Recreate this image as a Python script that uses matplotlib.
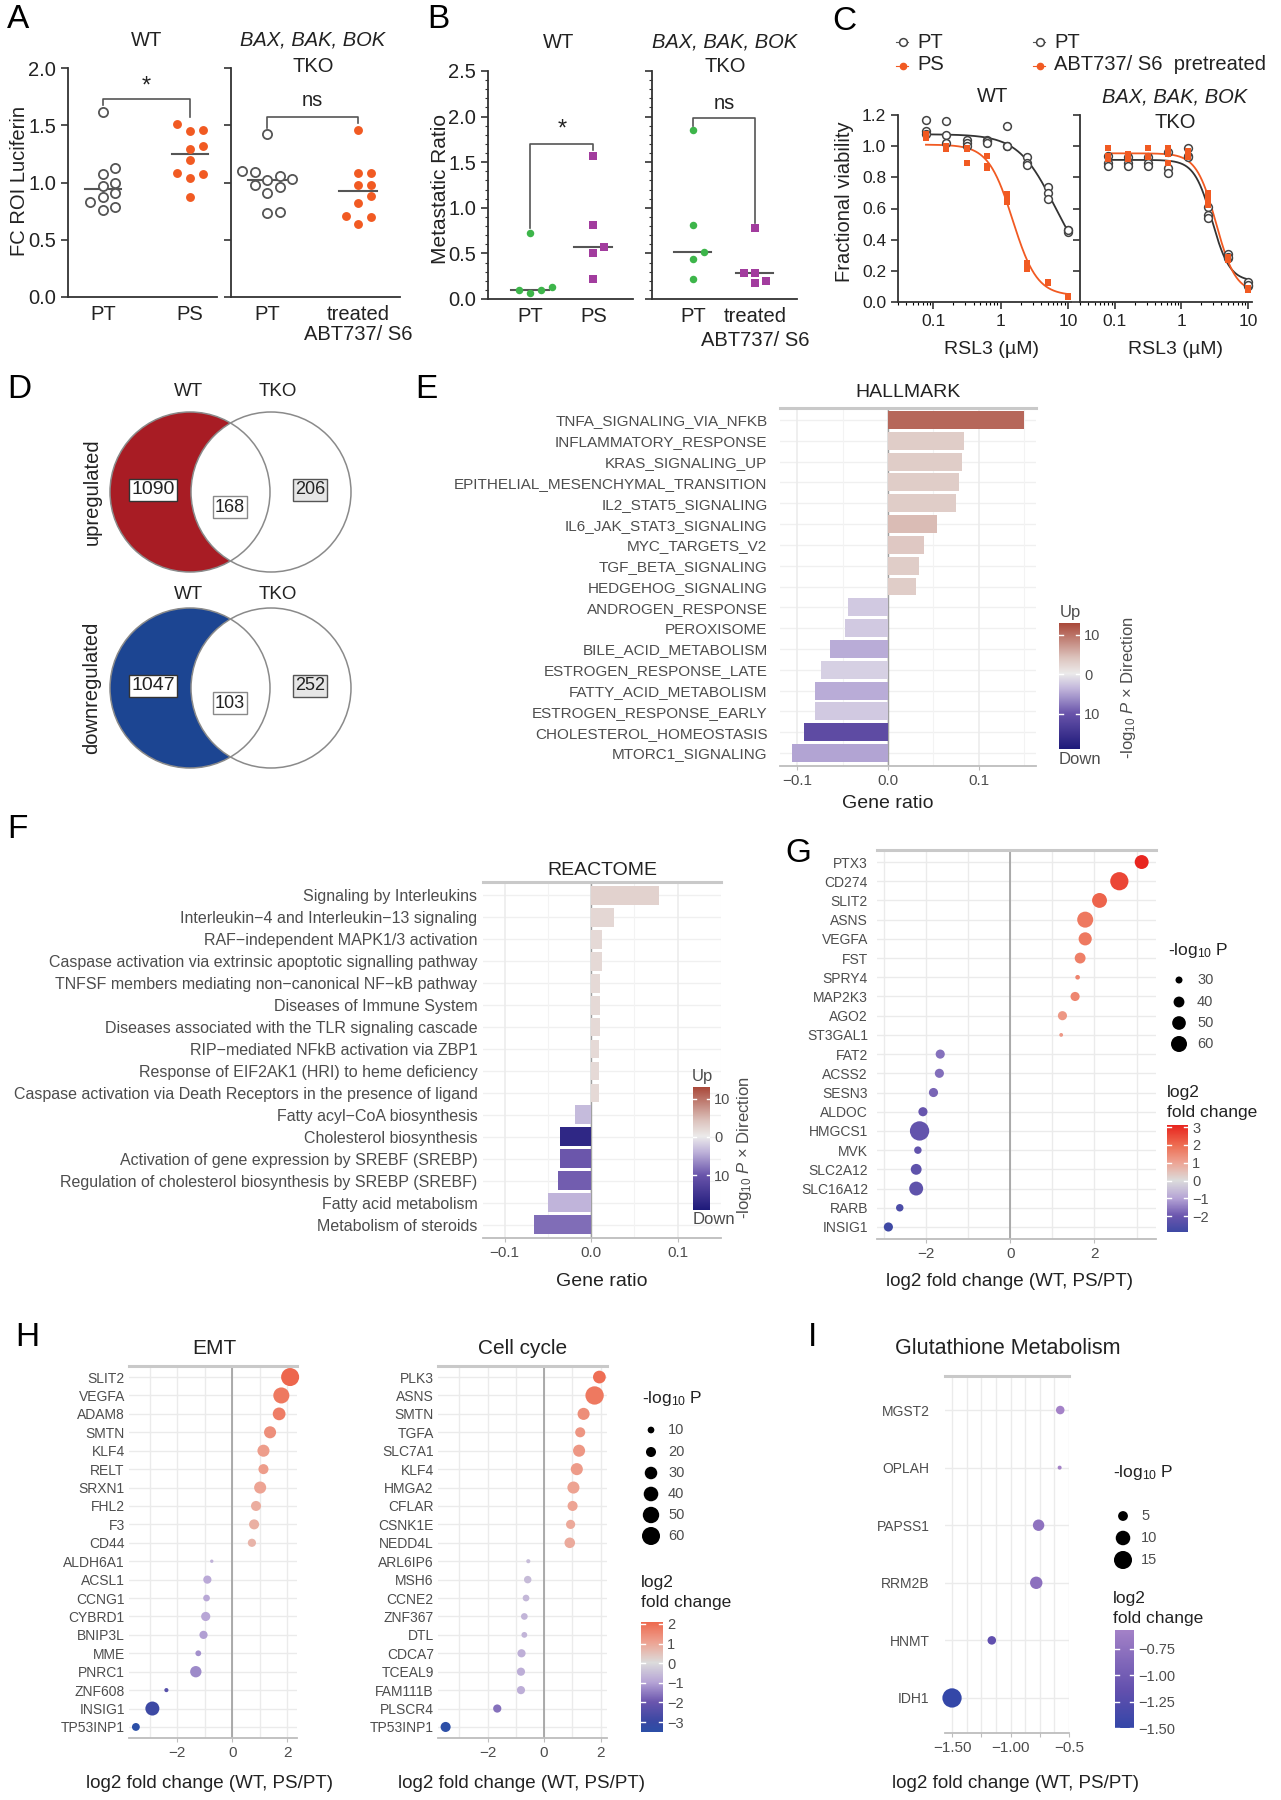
import numpy as np
import matplotlib
matplotlib.use('Agg')
import matplotlib.pyplot as plt
from matplotlib.colors import LinearSegmentedColormap, Normalize
from matplotlib.patches import Circle

plt.rcParams['font.family'] = ['Liberation Sans', 'DejaVu Sans']
plt.rcParams['mathtext.fontset'] = 'custom'
plt.rcParams['mathtext.rm'] = 'Liberation Sans'
plt.rcParams['mathtext.it'] = 'Liberation Sans:italic'
plt.rcParams['axes.unicode_minus'] = True

# ============================ DATA ============================
# A  (FC ROI luciferin)
a_wt_groups = ['PT', 'PS']
a_tko_groups = ['PT', 'treated\nABT737/ S6']
a_wt_pt = [1.62, 1.13, 1.00, 0.76, 1.07, 0.97, 0.91, 0.83, 0.87, 0.79]
a_wt_ps = [1.46, 1.51, 1.45, 1.29, 1.32, 1.20, 1.08, 1.04, 1.07, 0.87]
a_tko_pt = [1.42, 1.09, 1.10, 1.06, 1.03, 1.02, 0.98, 0.96, 0.91, 0.74, 0.73]
a_tko_tr = [1.46, 1.08, 1.08, 0.98, 0.98, 0.88, 0.82, 0.71, 0.70, 0.64]
a_sig = ['*', 'ns']

# B  (metastatic ratio)
b_wt_pt = [0.72, 0.07, 0.13, 0.10, 0.10]
b_wt_ps = [1.57, 0.81, 0.57, 0.50, 0.22]
b_tko_pt = [1.85, 0.81, 0.52, 0.44, 0.22]
b_tko_tr = [0.78, 0.28, 0.28, 0.17, 0.20]
b_sig = ['*', 'ns']

# C  (RSL3 dose response)
c_conc = [0.078, 0.156, 0.3125, 0.625, 1.25, 2.5, 5.0, 10.0]
c_wt_pt = [[1.17, 1.10, 1.08], [1.16, 1.07, 1.02], [1.04, 1.02, 1.00], [1.04, 1.03, 1.02],
           [1.13, 1.00, 1.00], [0.93, 0.89, 0.88], [0.74, 0.70, 0.66], [0.46, 0.45, 0.46]]
c_wt_ps = [[1.08, 1.06, 1.05], [1.00, 0.99, 0.98], [0.99, 0.98, 0.89], [0.94, 0.87, 0.86],
           [0.69, 0.66, 0.64], [0.25, 0.23, 0.21], [0.13, 0.12, 0.13], [0.04, 0.03, 0.04]]
c_tko_pt = [[0.94, 0.89, 0.87], [0.93, 0.89, 0.87], [0.93, 0.89, 0.87], [0.96, 0.86, 0.83],
            [0.99, 0.94, 0.93], [0.61, 0.56, 0.54], [0.31, 0.28, 0.29], [0.13, 0.10, 0.11]]
c_tko_tr = [[0.99, 0.94, 0.92], [0.95, 0.93, 0.92], [0.99, 0.94, 0.93], [0.99, 0.89, 0.95],
            [0.97, 0.93, 0.95], [0.70, 0.66, 0.62], [0.29, 0.27, 0.28], [0.08, 0.08, 0.09]]
c_legend_wt = ['PT', 'PS']
c_legend_tko = ['PT', 'ABT737/ S6  pretreated']

# D  (Venn counts: WT only, shared, TKO only)
d_sets = ['WT', 'TKO']
d_up = [1090, 168, 206]
d_down = [1047, 103, 252]

# E  HALLMARK
e_terms = ['TNFA_SIGNALING_VIA_NFKB', 'INFLAMMATORY_RESPONSE', 'KRAS_SIGNALING_UP',
           'EPITHELIAL_MESENCHYMAL_TRANSITION', 'IL2_STAT5_SIGNALING', 'IL6_JAK_STAT3_SIGNALING',
           'MYC_TARGETS_V2', 'TGF_BETA_SIGNALING', 'HEDGEHOG_SIGNALING', 'ANDROGEN_RESPONSE',
           'PEROXISOME', 'BILE_ACID_METABOLISM', 'ESTROGEN_RESPONSE_LATE', 'FATTY_ACID_METABOLISM',
           'ESTROGEN_RESPONSE_EARLY', 'CHOLESTEROL_HOMEOSTASIS', 'MTORC1_SIGNALING']
e_ratio = [0.150, 0.084, 0.081, 0.078, 0.075, 0.054, 0.040, 0.034, 0.031, -0.044, -0.047,
           -0.064, -0.074, -0.080, -0.080, -0.093, -0.106]
e_score = [10.5, 3, 3, 3, 3, 4.5, 3.5, 3, 3, -2.5, -2.5, -4.5, -2, -4.5, -2.5, -11.5, -5]

# F  REACTOME
f_terms = ['Signaling by Interleukins', 'Interleukin\u22124 and Interleukin\u221213 signaling',
           'RAF\u2212independent MAPK1/3 activation',
           'Caspase activation via extrinsic apoptotic signalling pathway',
           'TNFSF members mediating non\u2212canonical NF\u2212kB pathway', 'Diseases of Immune System',
           'Diseases associated with the TLR signaling cascade', 'RIP\u2212mediated NFkB activation via ZBP1',
           'Response of EIF2AK1 (HRI) to heme deficiency',
           'Caspase activation via Death Receptors in the presence of ligand',
           'Fatty acyl\u2212CoA biosynthesis', 'Cholesterol biosynthesis',
           'Activation of gene expression by SREBF (SREBP)',
           'Regulation of cholesterol biosynthesis by SREBP (SREBF)', 'Fatty acid metabolism',
           'Metabolism of steroids']
f_ratio = [0.078, 0.026, 0.012, 0.012, 0.010, 0.010, 0.010, 0.009, 0.009, 0.009, -0.019,
           -0.036, -0.036, -0.038, -0.050, -0.066]
f_score = [2.5, 2, 1.8, 1.8, 1.8, 1.8, 1.8, 1.8, 1.8, 1.8, -3.5, -17, -10, -9.5, -4, -8.5]

# G
g_genes = ['PTX3', 'CD274', 'SLIT2', 'ASNS', 'VEGFA', 'FST', 'SPRY4', 'MAP2K3', 'AGO2', 'ST3GAL1',
           'FAT2', 'ACSS2', 'SESN3', 'ALDOC', 'HMGCS1', 'MVK', 'SLC2A12', 'SLC16A12', 'RARB', 'INSIG1']
g_lfc = [3.12, 2.59, 2.12, 1.78, 1.78, 1.66, 1.60, 1.54, 1.24, 1.21, -1.66, -1.68, -1.82, -2.07,
         -2.15, -2.19, -2.23, -2.23, -2.62, -2.89]
g_logp = [51, 71, 55, 60, 48, 40, 26, 35, 35, 25, 35, 35, 35, 35, 77, 31, 40, 51, 31, 35]
g_size_breaks = [30, 40, 50, 60]

# H
h1_genes = ['SLIT2', 'VEGFA', 'ADAM8', 'SMTN', 'KLF4', 'RELT', 'SRXN1', 'FHL2', 'F3', 'CD44',
            'ALDH6A1', 'ACSL1', 'CCNG1', 'CYBRD1', 'BNIP3L', 'MME', 'PNRC1', 'ZNF608', 'INSIG1', 'TP53INP1']
h1_lfc = [2.10, 1.78, 1.70, 1.37, 1.13, 1.13, 1.01, 0.86, 0.79, 0.71, -0.75, -0.91, -0.94, -0.97,
          -1.05, -1.24, -1.33, -2.40, -2.91, -3.51]
h1_logp = [60, 48, 31, 28, 28, 20, 28, 20, 20, 14, 4, 14, 10, 17, 14, 8, 25, 5, 37, 13]
h2_genes = ['PLK3', 'ASNS', 'SMTN', 'TGFA', 'SLC7A1', 'KLF4', 'HMGA2', 'CFLAR', 'CSNK1E', 'NEDD4L',
            'ARL6IP6', 'MSH6', 'CCNE2', 'ZNF367', 'DTL', 'CDCA7', 'TCEAL9', 'FAM111B', 'PLSCR4', 'TP53INP1']
h2_lfc = [1.96, 1.79, 1.40, 1.28, 1.24, 1.16, 1.04, 1.01, 0.94, 0.91, -0.56, -0.58, -0.64, -0.70,
          -0.70, -0.80, -0.82, -0.82, -1.66, -3.49]
h2_logp = [31, 62, 28, 20, 28, 28, 28, 20, 17, 22, 5, 12, 10, 10, 8, 14, 14, 14, 14, 20]
h_size_breaks = [10, 20, 30, 40, 50, 60]

# I
i_genes = ['MGST2', 'OPLAH', 'PAPSS1', 'RRM2B', 'HNMT', 'IDH1']
i_lfc = [-0.575, -0.58, -0.76, -0.78, -1.16, -1.50]
i_logp = [4, 1.5, 6.5, 7.5, 4, 17]
i_size_breaks = [5, 10, 15]

# ============================ HELPERS ============================
W, H = 1281, 1800
fig = plt.figure(figsize=(W / 100, H / 100), dpi=100)
fig.patch.set_facecolor('white')

def pax(x0, y0, x1, y1):
    return fig.add_axes([x0 / W, 1 - y1 / H, (x1 - x0) / W, (y1 - y0) / H])

def ftext(x, y, s, **kw):
    kw.setdefault('ha', 'center')
    kw.setdefault('va', 'center')
    return fig.text(x / W, 1 - y / H, s, **kw)

def s_of(d):
    return (np.asarray(d, float) * 0.72) ** 2

ov = fig.add_axes([0, 0, 1, 1])
ov.set_xlim(0, W)
ov.set_ylim(H, 0)
ov.axis('off')
ov.patch.set_visible(False)

DARK = '#222222'
GRAYTXT = '#4D4D4D'
ORANGE = '#F15A22'
GREEN = '#3DB54A'
PURPLE = '#A23C9E'

# panel letters
for L, x, y in [('A', 7, 20), ('B', 427, 20), ('C', 832, 21), ('D', 7, 390), ('E', 415, 390),
                ('F', 7, 830), ('G', 785, 853), ('H', 15, 1337), ('I', 808, 1337)]:
    ftext(x, y, L, ha='left', fontsize=24, color='black')


def swarm(vals, ypx, d, cs):
    vals = np.asarray(vals, float)
    order = np.argsort(vals)
    placed = []
    off = np.zeros(len(vals))
    for i in order:
        yy = vals[i] * ypx
        for k in [0, 1, -1, 2, -2, 3, -3, 4, -4]:
            xx = k * cs
            if all((xx - px) ** 2 + (yy - py) ** 2 >= d ** 2 for px, py in placed):
                break
        placed.append((xx, yy))
        off[i] = xx
    return off


def classic_axes(ax, labelsize):
    for s in ['top', 'right']:
        ax.spines[s].set_visible(False)
    for s in ['left', 'bottom']:
        ax.spines[s].set_color('#333333')
        ax.spines[s].set_linewidth(1.3)
    ax.tick_params(axis='both', labelsize=labelsize, colors='#333333', labelcolor=DARK)


def point_panel(ax, groups, names, styles, ypx, xpx, d, cs, medhalf, sig, ylim, yticks,
                yfmt, show_ylab, lab_fs, bracket_top_pad, leg_pad, sig_pad, sig_fs, line2_off):
    for gi, (vals, st) in enumerate(zip(groups, styles)):
        off = swarm(vals, ypx, d, cs) / xpx
        ax.plot(gi + off, vals, linestyle='none', clip_on=False, **st)
        m = np.median(vals)
        ax.plot([gi - medhalf, gi + medhalf], [m, m], color='#555555', lw=1.5, zorder=1)
    top = max(max(g) for g in groups) + bracket_top_pad
    lb = min(max(groups[0]) + leg_pad, top - 0.04)
    rb = min(max(groups[1]) + leg_pad, top - 0.04)
    ax.plot([0, 0, 1, 1], [lb, top, top, rb], color='#555555', lw=1.2, clip_on=False)
    ax.text(0.5, top + sig_pad, sig, ha='center', va='center', fontsize=sig_fs, color=DARK)
    ax.set_ylim(*ylim)
    ax.set_yticks(yticks)
    ax.set_yticklabels([yfmt % v for v in yticks] if show_ylab else [])
    ax.set_xticks(range(len(names)))
    ax.set_xticklabels([n.split('\n')[0] for n in names])
    for gi, n in enumerate(names):
        parts = n.split('\n')
        if len(parts) > 1:
            ax.annotate(parts[1], xy=(gi, 0), xycoords=('data', 'axes fraction'),
                        xytext=(0, -line2_off), textcoords='offset points',
                        ha='center', va='center', fontsize=lab_fs, color=DARK, annotation_clip=False)
    classic_axes(ax, lab_fs)
    ax.tick_params(axis='x', length=0, pad=6)
    ax.tick_params(axis='y', length=5, width=1.2)


# ============================ A ============================
open_st = dict(marker='o', ms=6.6, mfc='white', mec='#555555', mew=1.3)
orange_st = dict(marker='o', ms=6.4, mfc=ORANGE, mec=ORANGE, mew=0)
axA1 = pax(68, 68, 217, 297)
axA1.set_xlim(-0.40, 1.31)
point_panel(axA1, [a_wt_pt, a_wt_ps], a_wt_groups, [open_st, orange_st], 114.5, 87, 10, 12.5,
            0.21, a_sig[0], (0, 2.0), [0, 0.5, 1.0, 1.5, 2.0], '%.1f', True, 14.5, 0.11, 0.06, 0.11, 17, 27)
axA2 = pax(231, 68, 400, 297)
axA2.set_xlim(-0.40, 1.46)
point_panel(axA2, [a_tko_pt, a_tko_tr], a_tko_groups, [open_st, orange_st], 114.5, 91, 10, 12.5,
            0.21, a_sig[1], (0, 2.0), [0, 0.5, 1.0, 1.5, 2.0], '%.1f', False, 14.5, 0.11, 0.06, 0.15, 14.5, 27)
ftext(20, 181, 'FC ROI Luciferin', rotation=90, fontsize=14.5, color=DARK)
ftext(147, 40, 'WT', fontsize=14.5, color=DARK)
ftext(313, 40, 'BAX, BAK, BOK', fontsize=14.5, style='italic', color=DARK)
ftext(313, 67, 'TKO', fontsize=14.5, color=DARK)

# ============================ B ============================
green_st = dict(marker='o', ms=5.4, mfc=GREEN, mec=GREEN, mew=0)
purple_st = dict(marker='s', ms=5.2, mfc=PURPLE, mec=PURPLE, mew=0)
axB1 = pax(488, 71, 633, 299)
axB1.set_xlim(-0.67, 1.63)
point_panel(axB1, [b_wt_pt, b_wt_ps], a_wt_groups, [green_st, purple_st], 91.2, 63, 8, 11,
            0.30, b_sig[0], (0, 2.5), [0, 0.5, 1.0, 1.5, 2.0, 2.5], '%.1f', True, 14.5, 0.13, 0.06, 0.16, 17, 30)
axB2 = pax(652, 71, 797, 299)
axB2.set_xlim(-0.66, 1.68)
point_panel(axB2, [b_tko_pt, b_tko_tr], a_tko_groups, [green_st, purple_st], 91.2, 62, 8, 11,
            0.30, b_sig[1], (0, 2.5), [0, 0.5, 1.0, 1.5, 2.0, 2.5], '%.1f', False, 14.5, 0.13, 0.05, 0.16, 14.5, 30)
for ax in (axB1, axB2):
    ax.set_yticks(np.arange(0, 2.51, 0.1), minor=True)
    ax.tick_params(axis='y', which='minor', length=2.5, width=0.8, color='#333333')
ftext(440, 189, 'Metastatic Ratio', rotation=90, fontsize=15, color=DARK)
ftext(559, 42, 'WT', fontsize=14.5, color=DARK)
ftext(725, 42, 'BAX, BAK, BOK', fontsize=14.5, style='italic', color=DARK)
ftext(725, 67, 'TKO', fontsize=14.5, color=DARK)

# ============================ C ============================
def fit_logistic(conc, reps):
    x = np.repeat(np.asarray(conc, float), [len(r) for r in reps])
    y = np.concatenate([np.asarray(r, float) for r in reps])
    best = None
    for h in np.linspace(0.8, 4.5, 75):
        for lic in np.linspace(-1.0, 1.6, 131):
            f = 1.0 / (1.0 + (x / 10 ** lic) ** h)
            A = np.vstack([np.ones_like(f), f]).T
            coef = np.linalg.lstsq(A, y, rcond=None)[0]
            sse = np.sum((A @ coef - y) ** 2)
            if best is None or sse < best[0]:
                best = (sse, h, lic, coef)
    return best[1:]


def dose_panel(ax, series):
    xs = np.logspace(np.log10(min(c_conc)), np.log10(max(c_conc)), 300)
    for reps, mk, col in series:
        h, lic, coef = fit_logistic(c_conc, reps)
        ax.plot(xs, coef[0] + coef[1] / (1 + (xs / 10 ** lic) ** h), color=col, lw=1.3, zorder=2)
        for c, r in zip(c_conc, reps):
            ax.plot([c] * len(r), r, linestyle='none', zorder=3, clip_on=False, **mk)
    ax.set_xscale('log')
    ax.set_xlim(0.03, 11.5)
    ax.set_ylim(0, 1.2)
    ax.set_xticks([0.1, 1, 10])
    ax.set_xticklabels(['0.1', '1', '10'])
    ax.set_yticks(np.arange(0, 1.21, 0.2))
    classic_axes(ax, 12.5)
    ax.tick_params(axis='both', which='major', length=5, width=1.2)
    ax.tick_params(axis='x', which='minor', length=2.5, width=0.8)


c_open = dict(marker='o', ms=5.6, mfc='white', mec='#444444', mew=1.1)
c_or = dict(marker='s', ms=4.6, mfc=ORANGE, mec=ORANGE, mew=0)
axC1 = pax(898, 115, 1072, 302)
dose_panel(axC1, [(c_wt_pt, c_open, '#333333'), (c_wt_ps, c_or, ORANGE)])
axC1.set_yticklabels(['%.1f' % v for v in np.arange(0, 1.21, 0.2)])
axC2 = pax(1080, 115, 1252, 302)
dose_panel(axC2, [(c_tko_pt, c_open, '#333333'), (c_tko_tr, c_or, ORANGE)])
axC2.set_yticklabels([])
ftext(845, 202, 'Fractional viability', rotation=90, fontsize=14.5, color=DARK)
ftext(991, 350, 'RSL3 (\u00b5M)', fontsize=14, color=DARK)
ftext(1175, 350, 'RSL3 (\u00b5M)', fontsize=14, color=DARK)
ftext(993, 97, 'WT', fontsize=14.5, color=DARK)
ftext(1175, 97, 'BAX, BAK, BOK', fontsize=14.5, style='italic', color=DARK)
ftext(1175, 122, 'TKO', fontsize=14.5, color=DARK)
for lx, labels in [(903, c_legend_wt), (1040, c_legend_tko)]:
    ov.plot([lx - 7, lx + 5], [42, 42], color='#555555', lw=0.8)
    ov.plot([lx], [42], linestyle='none', **c_open)
    ov.plot([lx - 7, lx + 5], [66, 66], color=ORANGE, lw=0.8)
    ov.plot([lx], [66], linestyle='none', marker='o', ms=4.5, mfc=ORANGE, mec=ORANGE)
    ftext(lx + 14, 42, labels[0], ha='left', fontsize=14.5, color=DARK)
    ftext(lx + 14, 65, labels[1], ha='left', fontsize=14.5, color=DARK)

# ============================ D ============================
def venn(cy, fill, counts, title_y, side_label):
    cl, cr, r = 190, 271, 80
    ov.add_patch(Circle((cl, cy), r, fc=fill, ec='none', zorder=1))
    ov.add_patch(Circle((cr, cy), r, fc='white', ec='none', zorder=2))
    ov.add_patch(Circle((cl, cy), r, fill=False, ec='#8A8A8A', lw=1.1, zorder=3))
    ov.add_patch(Circle((cr, cy), r, fill=False, ec='#8A8A8A', lw=1.1, zorder=3))
    bx = [dict(boxstyle='square,pad=0.12', fc='white', ec='#333333', lw=1.0),
          dict(boxstyle='square,pad=0.12', fc='white', ec='#8A8A8A', lw=1.0),
          dict(boxstyle='square,pad=0.12', fc='#E6E6E6', ec='#555555', lw=1.0)]
    pos = [(153, cy - 2), (230, cy + 15), (310, cy - 2)]
    for (x, y), n, b, fs in zip(pos, counts, bx, [14, 13, 13]):
        ov.text(x, y, str(n), ha='center', va='center', fontsize=fs, color=DARK, bbox=b, zorder=5)
    ftext(188, title_y, d_sets[0], fontsize=13.5, color=DARK)
    ftext(278, title_y, d_sets[1], fontsize=13.5, color=DARK)
    ftext(92, cy, side_label, rotation=90, fontsize=14.5, color=DARK)

venn(492, '#A81C24', d_up, 392, 'upregulated')
venn(688, '#1C4592', d_down, 595, 'downregulated')

# ============================ colour maps ============================
def anchored_cmap(anchors, vmin, vmax):
    return LinearSegmentedColormap.from_list(
        'c', [((v - vmin) / (vmax - vmin), c) for v, c in anchors]), Normalize(vmin, vmax)

cm_dir, nm_dir = anchored_cmap([(-19, '#1E1A7A'), (-10, '#6A55AB'), (-4, '#BFB3DA'), (0, '#ECEBEB'),
                                (4, '#DDC4BE'), (13, '#A84536')], -19, 13)
cm_lfc, nm_lfc = anchored_cmap([(-3.6, '#2A50A8'), (-3.0, '#3A48A3'), (-2.0, '#6B56AE'),
                                (-1.0, '#B6A4D6'), (0.0, '#DCDCDC'), (1.0, '#EDA595'),
                                (2.0, '#EE6D52'), (3.2, '#E8201B')], -3.6, 3.2)
cm_i, nm_i = anchored_cmap([(-1.52, '#3246A8'), (-1.15, '#6250AE'), (-0.56, '#A583C8')], -1.52, -0.56)


def style_gg(ax):
    for s in ['left', 'right']:
        ax.spines[s].set_visible(False)
    ax.spines['top'].set_color('#C9C9C9')
    ax.spines['top'].set_linewidth(2.2)
    ax.spines['bottom'].set_color('#BDBDBD')
    ax.spines['bottom'].set_linewidth(1.3)
    ax.tick_params(axis='y', length=0)
    ax.tick_params(axis='x', which='major', length=3, color='#BDBDBD', labelsize=11,
                   labelcolor=GRAYTXT, pad=3)
    ax.tick_params(axis='x', which='minor', length=0)
    ax.set_axisbelow(True)


def draw_cbar(x0, y0, x1, y1, vmin, vmax, cmap, norm, ticks, labels, fs=10.5):
    cax = pax(x0, y0, x1, y1)
    grad = np.linspace(vmax, vmin, 256).reshape(-1, 1)
    cax.imshow(grad, aspect='auto', cmap=cmap, norm=norm, extent=[0, 1, vmin, vmax],
               origin='upper', interpolation='bilinear')
    cax.set_xlim(0, 1)
    cax.set_ylim(vmin, vmax)
    cax.set_xticks([])
    cax.yaxis.tick_right()
    cax.set_yticks(ticks)
    cax.set_yticklabels(labels)
    cax.tick_params(axis='y', length=0, labelsize=fs, labelcolor=GRAYTXT, pad=3)
    for t in ticks:
        cax.plot([0, 0.2], [t, t], color='white', lw=1)
        cax.plot([0.8, 1], [t, t], color='white', lw=1)
    for s in cax.spines.values():
        s.set_visible(False)
    return cax


def bar_panel(box, xlim, terms, ratio, score, fs, pad):
    ax = pax(*box)
    n = len(terms)
    yy = np.arange(n)
    ax.barh(yy, ratio, height=0.86, color=cm_dir(nm_dir(np.asarray(score))), zorder=2)
    ax.set_ylim(n - 0.4, -0.6)
    ax.set_xlim(*xlim)
    ax.set_yticks(yy)
    ax.set_yticklabels(terms)
    ax.tick_params(axis='y', labelsize=fs, labelcolor=GRAYTXT, pad=pad)
    ax.set_xticks([-0.1, 0, 0.1])
    ax.set_xticklabels(['\u22120.1', '0.0', '0.1'])
    ax.set_xticks([-0.05, 0.05, 0.15], minor=True)
    ax.grid(axis='x', which='major', color='#EBEBEB', lw=1.1)
    ax.grid(axis='x', which='minor', color='#F3F3F3', lw=0.8)
    for y in yy:
        ax.axhline(y, color='#F0F0F0', lw=1, zorder=0.5)
    ax.axvline(0, color='#A0A0A0', lw=1.0, zorder=1)
    style_gg(ax)
    return ax

# ============================ E ============================
bar_panel((780, 407.5, 1036, 765.5), (-0.119, 0.163), e_terms, e_ratio, e_score, 11, 9)
ftext(908, 393, 'HALLMARK', fontsize=14, color=DARK)
ftext(888, 803, 'Gene ratio', fontsize=14, color=DARK)
draw_cbar(1059, 623, 1080, 749, -19, 13, cm_dir, nm_dir, [10, 0, -10], ['10', '0', '10'])
ftext(1070, 613, 'Up', fontsize=12, color=GRAYTXT)
ftext(1059, 759, 'Down', ha='left', fontsize=12, color=GRAYTXT)
ftext(1128, 688, r'-log$_{10}$ $P$ ' + '\u00d7 Direction', rotation=90, fontsize=12, color=GRAYTXT)

# ============================ F ============================
bar_panel((483, 882, 721, 1238), (-0.125, 0.118), f_terms, f_ratio, f_score, 11.5, 4)
ftext(602, 871, 'REACTOME', fontsize=14, color=DARK)
ftext(602, 1281, 'Gene ratio', fontsize=14, color=DARK)
draw_cbar(693, 1087, 710, 1210, -19, 13, cm_dir, nm_dir, [10, 0, -10], ['10', '0', '10'])
ftext(702, 1077, 'Up', fontsize=12, color=GRAYTXT)
ftext(693, 1219, 'Down', ha='left', fontsize=12, color=GRAYTXT)
ftext(744, 1148, r'-log$_{10}$ $P$ ' + '\u00d7 Direction', rotation=90, fontsize=12, color=GRAYTXT)

# ============================ dot plots ============================
def g_size(v):
    return np.sqrt(np.clip(-158 + 6.9 * np.asarray(v, float), 12, None))

def h_size(v):
    return np.sqrt(np.clip(-11 + 5.6 * np.asarray(v, float), 9, None))

def i_size(v):
    v = np.asarray(v, float)
    return np.sqrt(16 + (v - min(i_logp)) / (max(i_logp) - min(i_logp)) * 356)


def dot_panel(box, genes, lfc, logp, sizefn, colorfn, xlim, major, majlab, minor, pad, zero=True):
    ax = pax(*box)
    n = len(genes)
    yy = np.arange(n)
    ax.set_xlim(*xlim)
    ax.set_ylim(n - 0.4, -0.6)
    ax.set_xticks(major)
    ax.set_xticklabels(majlab)
    ax.set_xticks(minor, minor=True)
    ax.grid(axis='x', which='both', color='#EBEBEB', lw=1.0)
    for y in yy:
        ax.axhline(y, color='#EBEBEB', lw=1.0, zorder=0.5)
    if zero:
        ax.axvline(0, color='#9E9E9E', lw=1.2, zorder=1)
    ax.scatter(lfc, yy, s=s_of(sizefn(logp)), c=colorfn(np.asarray(lfc)), edgecolors='none',
               zorder=3, clip_on=False)
    ax.set_yticks(yy)
    ax.set_yticklabels(genes)
    ax.tick_params(axis='y', labelsize=10, labelcolor=GRAYTXT, pad=pad)
    style_gg(ax)
    return ax

lfc_col = lambda v: cm_lfc(nm_lfc(v))
i_col = lambda v: cm_i(nm_i(v))

# ---- G
dot_panel((877, 850.5, 1156, 1238.5), g_genes, g_lfc, g_logp, g_size, lfc_col, (-3.16, 3.46),
          [-2, 0, 2], ['\u22122', '0', '2'], [-3, -1, 1, 3], 6.5)
ftext(1010, 1281, 'log2 fold change (WT, PS/PT)', fontsize=13.5, color=DARK)
ftext(1168, 950, r'-log$_{10}$ P', ha='left', fontsize=12.5, color=DARK)
for v, y in zip(g_size_breaks, [980, 1002, 1023, 1044]):
    ov.scatter([1179], [y], s=s_of(g_size(v)), c='black', edgecolors='none')
    ftext(1197, y, str(v), ha='left', fontsize=10.5, color=GRAYTXT)
ftext(1167, 1093, 'log2', ha='left', fontsize=12.5, color=DARK)
ftext(1167, 1113, 'fold change', ha='left', fontsize=12.5, color=DARK)
draw_cbar(1167, 1125, 1188, 1232, min(g_lfc), max(g_lfc), cm_lfc, nm_lfc,
          [3, 2, 1, 0, -1, -2], ['3', '2', '1', '0', '\u22121', '\u22122'])

# ---- H
dot_panel((129, 1366, 297, 1738), h1_genes, h1_lfc, h1_logp, h_size, lfc_col, (-3.76, 2.35),
          [-2, 0, 2], ['\u22122', '0', '2'], [-3, -1, 1], 3)
dot_panel((438, 1366, 607, 1738), h2_genes, h2_lfc, h2_logp, h_size, lfc_col, (-3.76, 2.23),
          [-2, 0, 2], ['\u22122', '0', '2'], [-3, -1, 1], 3)
ftext(214, 1349, 'EMT', fontsize=15, color=DARK)
ftext(523, 1349, 'Cell cycle', fontsize=15, color=DARK)
ftext(210, 1783, 'log2 fold change (WT, PS/PT)', fontsize=13.5, color=DARK)
ftext(522, 1783, 'log2 fold change (WT, PS/PT)', fontsize=13.5, color=DARK)
ftext(642, 1398, r'-log$_{10}$ P', ha='left', fontsize=12.5, color=DARK)
for v, y in zip(h_size_breaks, [1430, 1452, 1473, 1494, 1515, 1536]):
    ov.scatter([651], [y], s=s_of(h_size(v)), c='black', edgecolors='none')
    ftext(668, y, str(v), ha='left', fontsize=10.5, color=GRAYTXT)
ftext(641, 1582, 'log2', ha='left', fontsize=12.5, color=DARK)
ftext(641, 1603, 'fold change', ha='left', fontsize=12.5, color=DARK)
draw_cbar(641, 1622, 663, 1732, min(h1_lfc + h2_lfc), max(h1_lfc + h2_lfc), cm_lfc, nm_lfc,
          [2, 1, 0, -1, -2, -3], ['2', '1', '0', '\u22121', '\u22122', '\u22123'])

# ---- I
dot_panel((945, 1375.5, 1069, 1732.5), i_genes, i_lfc, i_logp, i_size, i_col, (-1.56, -0.5),
          [-1.5, -1.25, -1.0, -0.75, -0.5], ['\u22121.50', '', '\u22121.00', '', '\u22120.5'],
          [-1.375, -1.125, -0.875, -0.625], 11, zero=False)
ftext(1008, 1349, 'Glutathione Metabolism', fontsize=15.5, color=DARK)
ftext(1015, 1783, 'log2 fold change (WT, PS/PT)', fontsize=13.5, color=DARK)
ftext(1113, 1473, r'-log$_{10}$ P', ha='left', fontsize=12.5, color=DARK)
for v, y in zip(i_size_breaks, [1516, 1538, 1560]):
    ov.scatter([1123], [y], s=s_of(i_size(v)), c='black', edgecolors='none')
    ftext(1141, y, str(v), ha='left', fontsize=10.5, color=GRAYTXT)
ftext(1113, 1598, 'log2', ha='left', fontsize=12.5, color=DARK)
ftext(1113, 1618, 'fold change', ha='left', fontsize=12.5, color=DARK)
draw_cbar(1115, 1630, 1134, 1728, min(i_lfc), max(i_lfc), cm_i, nm_i,
          [-0.75, -1.0, -1.25, -1.5], ['\u22120.75', '\u22121.00', '\u22121.25', '\u22121.50'])

fig.savefig('out.png', dpi=100, facecolor='white')
